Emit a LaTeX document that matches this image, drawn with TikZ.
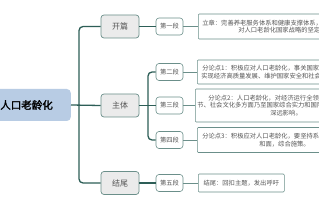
\documentclass[tikz,border=0pt]{standalone}
\usepackage{fontspec}
\newfontfamily\cjk[AutoFakeBold=2]{Noto Sans CJK SC}
\definecolor{trunk}{HTML}{2D5E57}
\definecolor{bord}{HTML}{6B8F8A}
\definecolor{rootfill}{HTML}{B8CCE4}
\definecolor{lvlfill}{HTML}{EBEBEB}
\definecolor{txt}{HTML}{555555}
\tikzset{
  rootbox/.style={fill=rootfill, rounded corners=4pt, anchor=east, text width=80pt, align=right,
    inner xsep=18pt, inner ysep=0pt, minimum height=32pt, text=black,
    font=\cjk\bfseries\fontsize{10.5}{12}\selectfont},
  lonebox/.style={draw=bord, fill=lvlfill, rounded corners=3pt, minimum width=38pt, minimum height=23pt,
    inner sep=0pt, line width=0.7pt, text=txt, font=\cjk\fontsize{8}{9}\selectfont},
  ltwobox/.style={draw=bord, fill=white, rounded corners=3pt, minimum width=27pt, minimum height=17pt,
    inner sep=0pt, line width=0.6pt, text=txt, font=\cjk\fontsize{6.3}{7}\selectfont},
  lthreebox/.style={draw=bord, fill=white, rounded corners=1pt, anchor=west, text width=210pt, align=left,
    inner xsep=4pt, inner ysep=0pt, line width=0.6pt, text=txt, font=\cjk\fontsize{6.3}{7.8}\selectfont},
  endbox/.style={draw=bord, fill=white, rounded corners=1pt, anchor=west, minimum width=86pt, minimum height=18pt,
    inner xsep=4pt, inner ysep=0pt, line width=0.6pt, text=txt, font=\cjk\fontsize{6.3}{7.8}\selectfont},
  trunkline/.style={draw=trunk, line width=1.3pt, rounded corners=4pt},
  thinline/.style={draw=bord, line width=0.7pt}
}
\begin{document}
\begin{tikzpicture}[x=1pt,y=-1pt]
\useasboundingbox (0,0) rectangle (319,200);
\clip (0,0) rectangle (319,200);
\fill[white] (0,0) rectangle (319,200);

\node[rootbox] (root) at (71,105) {人口老龄化};

\node[lonebox] (kp) at (120,26.5) {开篇};
\node[lonebox] (zt) at (120,105.5) {主体};
\node[lonebox] (jw) at (120,183) {结尾};

\node[ltwobox] (d1) at (169.5,26.5) {第一段};
\node[ltwobox] (d2) at (169.5,72) {第二段};
\node[ltwobox] (d3) at (169.5,105.5) {第三段};
\node[ltwobox] (d4) at (169.5,140) {第四段};
\node[ltwobox] (d5) at (169.5,183) {第五段};

\node[lthreebox, minimum height=25pt] (b1) at (198,26.5)
  {立章：完善养老服务体系和健康支撑体系，体现出我国积极应\\\hspace*{36pt}对人口老龄化国家战略的坚定决心。};
\node[lthreebox, minimum height=24pt] (b2) at (197,72)
  {\hspace*{1pt}分论点1：积极应对人口老龄化，事关国家发展全局，事关\\实现经济高质量发展、维护国家安全和社会稳定大局。};
\node[lthreebox, minimum height=33pt, inner xsep=2pt] (b3) at (195,105.5)
  {\hspace*{11pt}分论点2：人口老龄化，对经济运行全领域、各环\\节、社会文化多方面乃至国家综合实力和国际竞争力\\\hspace*{73pt}深远影响。};
\node[lthreebox, minimum height=25pt] (b4) at (197,140)
  {\hspace*{1pt}分论点3：积极应对人口老龄化，要坚持系统观念，统筹点\\\hspace*{58pt}和面，综合施策。};
\node[endbox] (b5) at (198,183) {结尾：回扣主题，发出呼吁};

\coordinate (tx) at (79,0);
\coordinate (sx) at (148,0);

\draw[trunkline] (root.east) -- (zt.west);
\draw[trunkline] (kp.west) -- (kp.west -| tx) -- (jw.west -| tx) -- (jw.west);
\draw[trunkline] (kp.east) -- (d1.west);
\draw[trunkline] (zt.east) -- (d3.west);
\draw[trunkline] (d2.west) -- (d2.west -| sx) -- (d4.west -| sx) -- (d4.west);
\draw[trunkline] (jw.east) -- (d5.west);

\draw[thinline] (d1.east) -- (b1.west);
\draw[thinline] (d2.east) -- (b2.west);
\draw[thinline] (d3.east) -- (b3.west);
\draw[thinline] (d4.east) -- (b4.west);
\draw[thinline] (d5.east) -- (b5.west);
\end{tikzpicture}
\end{document}
